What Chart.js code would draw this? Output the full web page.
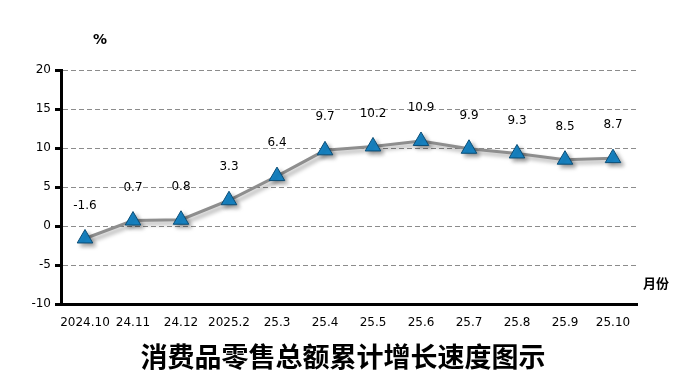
<!DOCTYPE html>
<html>
<head>
<meta charset="utf-8">
<script src="https://cdn.jsdelivr.net/npm/chart.js@4"></script>
<style>
html,body{margin:0;padding:0;background:#fff}
#wrap{position:relative;width:698px;height:392px}
</style>
</head>
<body>
<div id="wrap"><canvas id="c" width="698" height="392"></canvas></div>
<script>
const months = ['2024.10','24.11','24.12','2025.2','25.3','25.4','25.5','25.6','25.7','25.8','25.9','25.10'];
const growth = [-1.6, 0.7, 0.8, 3.3, 6.4, 9.7, 10.2, 10.9, 9.9, 9.3, 8.5, 8.7];
const yTicks = [-10, -5, 0, 5, 10, 15, 20];

const FONT = '"DejaVu Sans", Tahoma, sans-serif';

// shadow under the line and markers
const shadowPlugin = {
  id:'shadow',
  beforeDatasetDraw(chart){
    const ctx = chart.ctx;
    ctx.save();
    ctx.shadowColor = 'rgba(0,0,0,0.35)';
    ctx.shadowBlur = 4;
    ctx.shadowOffsetX = 3;
    ctx.shadowOffsetY = 3;
  },
  afterDatasetDraw(chart){ chart.ctx.restore(); }
};

// value labels + loose texts
const textPlugin = {
  id:'texts',
  afterDraw(chart){
    const ctx = chart.ctx;
    const meta = chart.getDatasetMeta(0);
    ctx.save();
    ctx.fillStyle = '#000';
    ctx.font = '12px ' + FONT;
    ctx.textAlign = 'center';
    ctx.textBaseline = 'middle';
    meta.data.forEach((pt, i) => {
      ctx.fillText(String(growth[i]), pt.x, pt.y - 33);
    });
    ctx.font = 'bold 14px ' + FONT;
    ctx.fillText('%', 100, 40);
    ctx.font = 'bold 13px "Noto Sans CJK SC", sans-serif';
    ctx.fillText('月份', 656, 283);
    ctx.font = 'bold 27px "Noto Sans CJK SC", serif';
    ctx.fillText('消费品零售总额累计增长速度图示', 343, 357);
    ctx.restore();
  }
};

new Chart(document.getElementById('c'), {
  type:'line',
  data:{
    labels: months,
    datasets:[{
      data: growth,
      borderColor:'#8e8e8e',
      borderWidth:3,
      tension:0,
      pointStyle:'triangle',
      pointRadius:9,
      pointHoverRadius:9,
      pointBackgroundColor:'#1784c4',
      pointBorderColor:'#0c4d75',
      pointBorderWidth:1
    }]
  },
  options:{
    responsive:false,
    animation:false,
    events:[],
    layout:{padding:{left:0, right:61, top:70, bottom:0}},
    plugins:{legend:{display:false}, tooltip:{enabled:false}},
    scales:{
      x:{
        offset:true,
        grid:{display:false, drawTicks:false},
        border:{display:true, color:'#000', width:3},
        ticks:{color:'#000', font:{size:12, family:FONT}, padding:12, maxRotation:0, autoSkip:false},
        afterFit(s){ s.height = 88; }
      },
      y:{
        min:-10, max:20,
        afterBuildTicks(s){ s.ticks = yTicks.map(v => ({value:v})); },
        grid:{
          color: c => (c.tick && c.tick.value === -10) ? 'rgba(0,0,0,0)' : '#8c8c8c',
          lineWidth:1,
          drawTicks:true,
          tickLength:6,
          tickColor:'#000',
          tickWidth:3,
          tickBorderDash:[]
        },
        border:{display:true, color:'#000', width:3, dash:[5,3]},
        ticks:{color:'#000', font:{size:12, family:FONT}, padding:4},
        afterFit(s){ s.width = 61; }
      }
    }
  },
  plugins:[shadowPlugin, textPlugin]
});
</script>
</body>
</html>
